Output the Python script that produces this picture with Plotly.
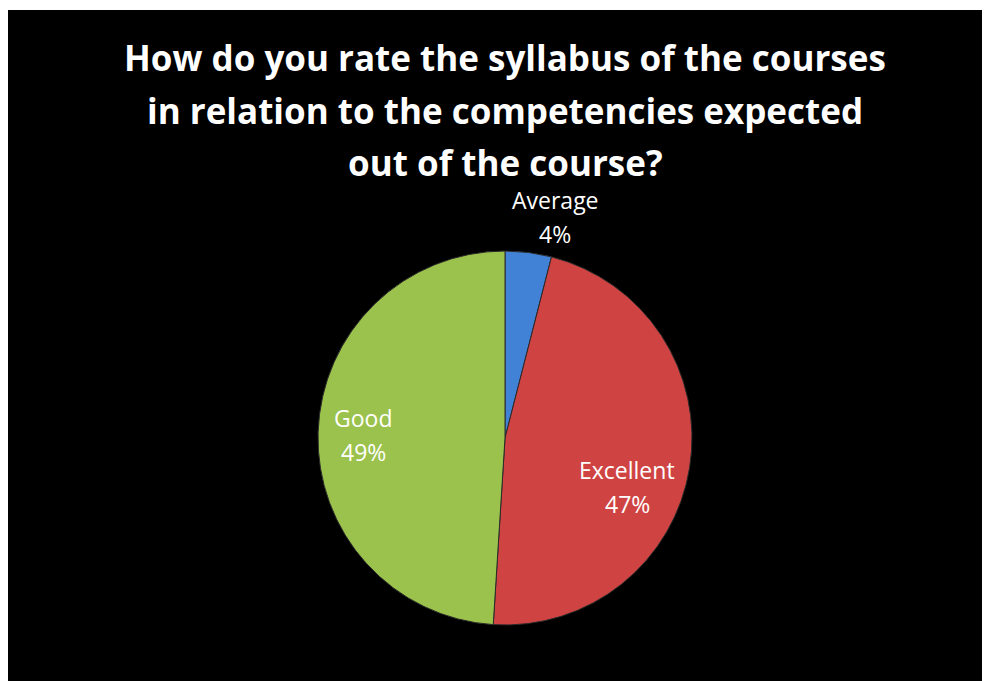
import plotly.graph_objects as go

categories = ["Average", "Excellent", "Good"]
values = [4, 47, 49]
colors = ["#4282d6", "#cf4443", "#9bc24c"]
title_lines = ["How do you rate the syllabus of the courses",
               "in relation to the competencies expected",
               "out of the course?"]

W, H = 990, 681
# figure-pixel layout (page body adds an 8px offset)
CX, CY, R = 497, 430, 187
label_pos = {"Average": (547, 192), "Excellent": (619, 462), "Good": (355, 410)}
LINE_GAP = 34
title_y = [49, 102, 154]
TITLE_X = 497


def px(x):
    return x / W


def py(y):
    return (H - y) / H


fig = go.Figure()
fig.add_trace(go.Pie(
    labels=categories, values=values, sort=False, direction="clockwise",
    rotation=0,
    marker=dict(colors=colors, line=dict(color="#2a2a2a", width=1)),
    textinfo="none", showlegend=False, hoverinfo="skip",
    domain=dict(x=[px(CX - R), px(CX + R)], y=[py(CY + R), py(CY - R)]),
))

total = sum(values)
for cat, val in zip(categories, values):
    lx, ly = label_pos[cat]
    pct = f"{round(100 * val / total)}%"
    for k, txt in enumerate([cat, pct]):
        fig.add_annotation(text=txt, xref="paper", yref="paper",
                           x=px(lx), y=py(ly + k * LINE_GAP),
                           xanchor="center", yanchor="middle", showarrow=False,
                           font=dict(family="Open Sans", size=23, color="white"))

# 2px white strip at the top (chart area starts slightly lower)
fig.add_shape(type="rect", xref="paper", yref="paper", x0=0, x1=1, y0=py(2), y1=1,
              fillcolor="white", line_width=0, layer="below")

for line, yc in zip(title_lines, title_y):
    fig.add_annotation(text=line, xref="paper", yref="paper", x=px(TITLE_X), y=py(yc),
                       xanchor="center", yanchor="middle", showarrow=False,
                       font=dict(family="Open Sans", size=35, color="white", weight="bold"))

fig.update_layout(width=W, height=H, margin=dict(l=0, r=0, t=0, b=0),
                  paper_bgcolor="black")
fig.write_html("out.html")
